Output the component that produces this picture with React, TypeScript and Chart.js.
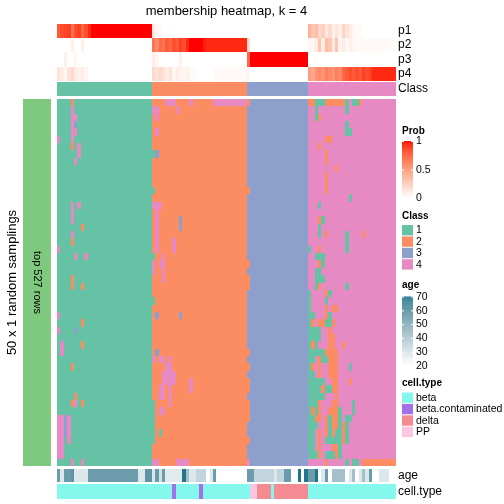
import React, { useEffect, useRef } from "react";
import { Chart, registerables } from "chart.js";

Chart.register(...registerables);

// ---------------- data ----------------
const TITLE = "membership heatmap, k = 4";
const LEFT_TITLE = "50 x 1 random samplings";
const ROW_TITLE = "top 527 rows";
const probRowNames = ["p1", "p2", "p3", "p4"];
const classNames = ["1", "2", "3", "4"];
const classColors = ["#66C2A5", "#FC8D62", "#8DA0CB", "#E78AC3"];
const cellTypeNames = ["beta", "beta.contaminated", "delta", "PP"];
const cellTypeColors = ["#84F8EC", "#A370E8", "#F48B93", "#FCC6E0"];
const probTicks = [0, 0.5, 1];
const ageTicks = [20, 30, 40, 50, 60, 70];

// consensus class of each sample (column)
const consensusClass =
  "1111111111 1111111111 1111111122 2222222222 2222222222 2222223333 3333333333 3333444444 4444444444 4444444444";

// class assigned in each of the 50 random samplings (rows) for each sample (columns)
const membershipRows = [
  "1111211111 1111111111 1111111122 2244422224 2222224444 4444442333 3333333333 3333221112 2222214112 4444444444",
  "1111411111 1111111111 1111111144 2222242222 2222222222 2222223333 3333333333 3333441444 4444414444 4444444444",
  "1111441111 1111111111 1111111124 2222222222 2222222222 2222223333 3333333333 3333441244 4444444444 4444444444",
  "1111431111 1111111111 1111111122 2222222222 2222222222 2222223333 3333333333 3333444444 4444414444 4444444444",
  "1111441111 1111111111 1111111124 2222222222 2222222222 2222223333 3333333333 3333444444 4444411444 4444444444",
  "4111411111 1111111111 1111111122 2222222222 2222222222 2222223333 3333333333 3333444442 2444444444 4444444444",
  "1111214111 1111111111 1111111122 2222222222 2222222222 2222223333 3333333333 3333444244 4444444444 4444444444",
  "1111114111 1111111111 1111111113 2222222222 2222222222 2222223333 3333333333 3333444442 4444444444 4444444444",
  "1111141111 1111111111 1111111122 2222222222 2222222222 2222223333 3333333333 3333444442 4444444444 4444444444",
  "1111111111 1111111111 1111111122 2222222222 2222222222 2222223333 3333333333 3333444444 4424444444 4444444444",
  "1111111111 1111111111 1111111122 2222222222 2222222222 2222223333 3333333333 3333444442 4444444444 4444444444",
  "1111111111 1111111111 1111111122 2222222222 2222222222 2222223333 3333333333 3333444442 4444444444 4444444444",
  "1111111111 1111111111 1111111112 2222222222 2222222222 2222222333 3333333333 3333444442 4444444444 4444444444",
  "1111111111 1111111111 1111111122 2222222222 2222222222 2222223333 3333333333 3333444444 4444441444 4444444444",
  "1111414111 1111111111 1111111144 4222222222 2222222222 2222223333 3333333333 3333444144 4444444444 4444444444",
  "1111411111 1111111111 1111111124 2222222222 2222222222 2222223333 3333333333 3333444444 4444444444 4444444444",
  "1111411111 1111111111 1111111124 2222223222 2222222222 2222223333 3333333333 3333444214 4444444444 4444444444",
  "1111111211 1111111111 1111111124 2222223222 2222222222 2222223333 3333333333 3333444144 4444444444 4444444444",
  "1111411111 1111111111 1111111124 2222222222 2222222222 2222223333 3333333333 3333444142 4444414444 2444444444",
  "1111211111 1111111111 1111111124 2222422222 2222222222 2222223333 3333333333 3333444444 4444414444 4444444444",
  "4111111111 1111111111 1111111124 2222422222 2222222222 2222223333 3333333333 3333144244 4444414444 4444444444",
  "1111141141 1111111111 1111111112 2422222222 2222222222 2222223333 3333333333 3333441114 4444444444 4444444444",
  "1111111111 1111111111 1111111142 4422222222 2222222222 2222222333 3333333333 3333444214 4444444444 4444444444",
  "1111111111 1111111111 1111111142 2422222222 2222222222 2222223333 3333333333 3333441144 4444444444 4444444444",
  "1111211111 1111111111 1111111122 2422222222 2222222222 2222222333 3333333333 3333441114 4444444444 4444444444",
  "1111211211 1111111111 1111111122 2222222222 2222222222 2222222333 3333333333 3333441244 4444414444 4444444444",
  "1111111111 1111111111 1111111122 2222222222 2222222222 2222223333 3333333333 3333144442 1444444444 4444444444",
  "1111111111 1111111111 1111111112 2222222222 2222222222 2222223333 3333333333 3333144441 4444444444 4444444444",
  "1111111111 1111111111 1111111122 2222222222 2222222222 2222223333 3333333333 3333144442 4224444444 4444444444",
  "4111111111 1111111111 1111111123 2222223222 2222222222 2222223333 3333333333 3333114442 1444444444 4444444444",
  "1111111211 1111111111 1111111122 2222222222 2222222222 2222223333 3333333333 3333124221 1244444444 4444444444",
  "4111131111 1111111111 1111111122 2222222222 2222222222 2222223333 3333333333 3333111144 2444444444 4444444444",
  "1111111111 1111111111 1111111122 2222222222 2222222222 2222223333 3333333333 3333111144 2244444444 4444444444",
  "1411111211 1111111111 1111111122 2222222222 2222222222 2222223333 3333333333 3333121444 2244244444 4444444444",
  "1411111111 1111111111 1111111123 2222222222 2222222222 2222222333 3333333333 3333111112 2224444444 4444444444",
  "1111111111 1111111111 1111111142 4424222222 2222222222 2222223333 3333333333 3333114211 2224444444 4444444444",
  "1111211111 1111111111 1111111122 2244222222 2222222222 2222222333 3333333333 3333124244 2224441444 4444444444",
  "1111111111 1111111111 1111111122 2444422222 2222222222 2222223333 3333333333 3333114244 2224444444 4444444444",
  "1111111111 1111111111 1111111122 2444422224 2222222222 2222222333 3333333333 3333111114 4224442444 4444444444",
  "1111111111 1111111111 1111111122 4424222224 2222222222 2222222333 3333333333 3333111121 1224444444 4444444444",
  "1111121111 1111111111 1111111122 4424222222 2222222222 2222223333 3333333333 3333111114 4424444444 4444444444",
  "1111241211 1111111111 1111111112 2224222222 2222222222 2222222333 3333333333 3333111244 4224444144 4444444444",
  "1111111111 1111111111 1111111112 4422222222 2222222222 2222222333 3333333333 3333121244 2221444144 4444444444",
  "4434111111 1111111111 1111111112 2222222222 2222222222 2222222333 3333333333 3333112242 1221411444 4444444444",
  "4434111111 1111111111 1111111112 2222222222 2222222222 2222223333 3333333333 3333111442 1221214444 4444444444",
  "4434111111 1111111111 1111111112 1222222222 2222222222 2222223333 3333333333 3333114242 1211214444 4444444444",
  "4414111111 1111111111 1111111112 2222222222 2222222222 2222222333 3333333333 3333114241 1111214444 4444444444",
  "4411111111 1111111111 1111111122 2222222222 2222222222 2222223333 3333333333 3333114244 4221444444 4444444444",
  "4411111111 1111111111 1111111122 2222222222 2222222222 2222223333 3333333333 3333111241 1121444444 4444444444",
  "1111411411 1111111111 1111111144 2222244442 2222222222 2222224333 3333333333 3333444442 4444414114 2222222222",
];

const p1 = [
  0.8, 0.85, 0.88, 0.9, 0.7, 0.85, 0.9, 0.75, 0.85, 0.95,
  1, 1, 1, 1, 1, 1, 1, 1, 1, 1,
  1, 1, 1, 1, 1, 1, 1, 1, 0.12, 0.05,
  0.03, 0, 0, 0, 0, 0, 0, 0, 0, 0,
  0, 0, 0, 0, 0, 0, 0, 0, 0, 0,
  0, 0, 0, 0, 0, 0, 0, 0, 0, 0,
  0, 0, 0, 0, 0, 0, 0, 0, 0, 0,
  0, 0, 0, 0, 0.4, 0.3, 0.35, 0.2, 0.25, 0.12,
  0.2, 0.08, 0.15, 0.08, 0.22, 0.15, 0.1, 0.05, 0.02, 0.02,
  0, 0, 0, 0, 0, 0, 0, 0, 0, 0,
];
const p2 = [
  0, 0, 0, 0, 0.08, 0, 0, 0.08, 0, 0,
  0, 0, 0, 0, 0, 0, 0, 0, 0, 0,
  0, 0, 0, 0, 0, 0, 0, 0, 0.7, 0.6,
  0.75, 0.7, 0.8, 0.75, 0.85, 0.8, 0.9, 0.85, 0.95, 1,
  1, 1, 1, 0.97, 0.95, 0.95, 0.95, 0.95, 0.95, 0.95,
  0.95, 0.95, 0.95, 0.95, 0.95, 0.95, 0.2, 0, 0, 0,
  0, 0, 0, 0, 0, 0, 0, 0, 0, 0,
  0, 0, 0, 0, 0.05, 0.05, 0.1, 0.3, 0.1, 0.35,
  0.3, 0.1, 0.3, 0.05, 0.1, 0.05, 0.08, 0.05, 0.03, 0.03,
  0.03, 0.03, 0.03, 0.03, 0.03, 0.03, 0.03, 0.03, 0.03, 0.03,
];
const p3 = [
  0, 0, 0.08, 0, 0, 0.05, 0, 0, 0, 0,
  0, 0, 0, 0, 0, 0, 0, 0, 0, 0,
  0, 0, 0, 0, 0, 0, 0, 0, 0.1, 0.05,
  0, 0, 0, 0, 0, 0, 0.08, 0, 0, 0,
  0, 0, 0, 0, 0, 0, 0, 0, 0, 0,
  0, 0, 0, 0, 0, 0, 0.75, 1, 1, 1,
  1, 1, 1, 1, 1, 1, 1, 1, 1, 1,
  1, 1, 1, 1, 0, 0, 0, 0, 0, 0,
  0, 0, 0, 0, 0, 0, 0, 0, 0, 0,
  0, 0, 0, 0, 0, 0, 0, 0, 0, 0,
];
const p4 = [
  0.15, 0.1, 0.05, 0.15, 0.2, 0.1, 0.08, 0.1, 0.05, 0,
  0, 0, 0, 0, 0, 0, 0, 0, 0, 0,
  0, 0, 0, 0, 0, 0, 0, 0, 0.2, 0.15,
  0.2, 0.15, 0.1, 0.15, 0.05, 0.1, 0.05, 0.05, 0.08, 0.03,
  0.03, 0, 0, 0, 0, 0, 0.03, 0.03, 0.03, 0.03,
  0.03, 0.03, 0.03, 0.03, 0.03, 0.03, 0.05, 0, 0, 0,
  0, 0, 0, 0, 0, 0, 0, 0, 0, 0,
  0, 0, 0, 0, 0.5, 0.45, 0.55, 0.6, 0.55, 0.65,
  0.6, 0.55, 0.65, 0.6, 0.75, 0.8, 0.85, 0.8, 0.85, 0.8,
  0.9, 0.85, 0.9, 0.95, 0.95, 0.95, 0.95, 0.95, 0.95, 0.95,
];

const ageValues: (number | null)[] = [
  54, 28, 54, 54, 57, 28, 28, 28, 28, 54,
  54, 54, 54, 54, 54, 54, 54, 54, 54, 54,
  54, 54, 54, 54, 28, 28, 57, 57, 28, 54,
  30, 54, 27, 27, 27, 27, 27, 68, 41, 28,
  28, 34, 34, 34, null, 28, 54, null, null, null,
  null, null, null, null, null, null, 54, 54, 34, 34,
  34, 34, 34, 34, 28, 34, 34, 54, 54, null,
  null, 68, null, 68, 54, 54, 68, null, 28, 54,
  null, 41, 41, 41, 41, null, 28, 41, null, 28,
  41, 28, 54, null, null, 28, 28, 28, null, null,
];

// index into cellTypeNames for each sample
const cellTypeCodes =
  "0000000000 0000000000 0000000000 0000100000 0010000000 0000000332 2220222222 2222000000 0000000000 0000000000";

// ---------------- layout (not data) ----------------
const FONT = '"Liberation Sans", Arial, Helvetica, sans-serif';
const PAD = { left: 57, right: 108, top: 24, bottom: 5 };
const Y_MAX = 475;
const BANDS = {
  p: [
    [0, 14],
    [14, 28],
    [28, 43],
    [43, 57],
  ],
  cls: [58, 72],
  hm: [75, 442],
  age: [445, 458],
  cell: [460, 475],
};

// ---------------- colour helpers ----------------
type RGB = [number, number, number];
const hexToRgb = (h: string): RGB => [
  parseInt(h.slice(1, 3), 16),
  parseInt(h.slice(3, 5), 16),
  parseInt(h.slice(5, 7), 16),
];
const toLin = (c: number) => {
  const v = c / 255;
  return v <= 0.04045 ? v / 12.92 : Math.pow((v + 0.055) / 1.055, 2.4);
};
const fromLin = (c: number) => {
  const v = c <= 0.0031308 ? 12.92 * c : 1.055 * Math.pow(c, 1 / 2.4) - 0.055;
  return Math.round(Math.max(0, Math.min(1, v)) * 255);
};
function rgbToLab([r, g, b]: RGB): RGB {
  const R = toLin(r), G = toLin(g), B = toLin(b);
  const x = (R * 0.4124 + G * 0.3576 + B * 0.1805) / 0.95047;
  const y = R * 0.2126 + G * 0.7152 + B * 0.0722;
  const z = (R * 0.0193 + G * 0.1192 + B * 0.9505) / 1.08883;
  const f = (t: number) => (t > 0.008856 ? Math.cbrt(t) : 7.787 * t + 16 / 116);
  const fx = f(x), fy = f(y), fz = f(z);
  return [116 * fy - 16, 500 * (fx - fy), 200 * (fy - fz)];
}
function labToRgb([L, a, b]: RGB): string {
  const fy = (L + 16) / 116, fx = fy + a / 500, fz = fy - b / 200;
  const inv = (t: number) => (t * t * t > 0.008856 ? t * t * t : (t - 16 / 116) / 7.787);
  const x = inv(fx) * 0.95047, y = inv(fy), z = inv(fz) * 1.08883;
  const R = x * 3.2406 + y * -1.5372 + z * -0.4986;
  const G = x * -0.9689 + y * 1.8758 + z * 0.0415;
  const B = x * 0.0557 + y * -0.204 + z * 1.057;
  return `rgb(${fromLin(R)},${fromLin(G)},${fromLin(B)})`;
}
function makeRamp(lo: number, hi: number, c0: string, c1: string) {
  const a = rgbToLab(hexToRgb(c0)), b = rgbToLab(hexToRgb(c1));
  return (v: number) => {
    const t = Math.max(0, Math.min(1, (v - lo) / (hi - lo)));
    return labToRgb([a[0] + (b[0] - a[0]) * t, a[1] + (b[1] - a[1]) * t, a[2] + (b[2] - a[2]) * t]);
  };
}
const probColor = makeRamp(0, 1, "#FFFFFF", "#FF0000");
const ageColor = makeRamp(20, 70, "#FFFFFF", "#0F7086");

// ---------------- chart building ----------------
const strip = (s: string) => s.replace(/\s/g, "");
const snapPx = (v: number) => Math.round(v + 0.001);

// snaps bar rectangles to whole device pixels (crisp raster look, no seams)
const snapPlugin = {
  id: "snapBars",
  beforeDatasetsDraw(chart: any) {
    chart.getSortedVisibleDatasetMetas().forEach((meta: any) => {
      meta.data.forEach((el: any) => {
        const half = el.width / 2;
        const l = snapPx(el.x - half);
        const r = snapPx(el.x + half);
        el.x = (l + r) / 2;
        el.width = r - l;
        el.y = snapPx(el.y);
        el.base = snapPx(el.base);
      });
    });
  },
};

function buildConfig(): any {
  const rows = membershipRows.map(strip);
  const consensus = strip(consensusClass);
  const cellCodes = strip(cellTypeCodes);
  const nCol = consensus.length;
  const labels = Array.from({ length: nCol }, (_, i) => String(i));
  const rowH = (BANDS.hm[1] - BANDS.hm[0]) / rows.length;
  const datasets: any[] = [];

  // heatmap: vertical runs of the same class in each column
  classNames.forEach((k, ci) => {
    const data: any[] = [];
    for (let c = 0; c < nCol; c++) {
      let r = 0;
      while (r < rows.length) {
        if (rows[r][c] === k) {
          let e = r;
          while (e + 1 < rows.length && rows[e + 1][c] === k) e++;
          data.push({ x: labels[c], y: [BANDS.hm[0] + r * rowH, BANDS.hm[0] + (e + 1) * rowH] });
          r = e + 1;
        } else r++;
      }
    }
    datasets.push({ label: "class " + k, data, backgroundColor: classColors[ci] });
  });

  // probability annotation rows
  [p1, p2, p3, p4].forEach((vals, i) => {
    datasets.push({
      label: probRowNames[i],
      data: vals.map((_, c) => ({ x: labels[c], y: [BANDS.p[i][0], BANDS.p[i][1]] })),
      backgroundColor: vals.map((v) => probColor(v)),
    });
  });

  // consensus class row
  datasets.push({
    label: "Class",
    data: labels.map((l) => ({ x: l, y: [BANDS.cls[0], BANDS.cls[1]] })),
    backgroundColor: consensus.split("").map((k) => classColors[classNames.indexOf(k)]),
  });

  // age row
  const ageData: any[] = [];
  const ageCols: string[] = [];
  ageValues.forEach((v, c) => {
    if (v === null) return;
    ageData.push({ x: labels[c], y: [BANDS.age[0], BANDS.age[1]] });
    ageCols.push(ageColor(v));
  });
  datasets.push({ label: "age", data: ageData, backgroundColor: ageCols });

  // cell type row
  datasets.push({
    label: "cell.type",
    data: labels.map((l) => ({ x: l, y: [BANDS.cell[0], BANDS.cell[1]] })),
    backgroundColor: cellCodes.split("").map((d) => cellTypeColors[Number(d)]),
  });

  const decor = {
    id: "decor",
    afterDraw(chart: any) {
      const ctx: CanvasRenderingContext2D = chart.ctx;
      const ys = chart.scales.y;
      const py = (u: number) => ys.getPixelForValue(u);
      const area = chart.chartArea;
      ctx.save();
      ctx.fillStyle = "#000";
      ctx.textBaseline = "middle";

      // title
      ctx.font = `13px ${FONT}`;
      ctx.textAlign = "center";
      ctx.fillText(TITLE, (area.left + area.right) / 2, 11);

      // right-side row labels
      ctx.font = `12px ${FONT}`;
      ctx.textAlign = "left";
      const lx = area.right + 2;
      probRowNames.forEach((t, i) => ctx.fillText(t, lx, py((BANDS.p[i][0] + BANDS.p[i][1]) / 2)));
      ctx.fillText("Class", lx, py((BANDS.cls[0] + BANDS.cls[1]) / 2));
      ctx.fillText("age", lx, py((BANDS.age[0] + BANDS.age[1]) / 2));
      ctx.fillText("cell.type", lx, py((BANDS.cell[0] + BANDS.cell[1]) / 2));

      // left green slice bar + titles
      const hy0 = py(BANDS.hm[0]), hy1 = py(BANDS.hm[1]);
      ctx.fillStyle = "#7FC97F";
      ctx.fillRect(23, hy0, 28, hy1 - hy0);
      ctx.fillStyle = "#000";
      ctx.save();
      ctx.translate(12, (hy0 + hy1) / 2);
      ctx.rotate(-Math.PI / 2);
      ctx.textAlign = "center";
      ctx.font = `13px ${FONT}`;
      ctx.fillText(LEFT_TITLE, 0, 0);
      ctx.restore();
      ctx.save();
      ctx.translate(37.5, (hy0 + hy1) / 2);
      ctx.rotate(Math.PI / 2);
      ctx.textAlign = "center";
      ctx.font = `11px ${FONT}`;
      ctx.fillText(ROW_TITLE, 0, 0);
      ctx.restore();

      // legends
      const gx = 402, gw = 11, tx = 416;
      const legendTitle = (t: string, y: number) => {
        ctx.font = `bold 10px ${FONT}`;
        ctx.fillStyle = "#000";
        ctx.textAlign = "left";
        ctx.fillText(t, gx, y);
      };
      const gradient = (
        ticks: number[],
        yTop: number,
        yBot: number,
        colorFn: (v: number) => string,
        fmt: (v: number) => string
      ) => {
        const lo = ticks[0], hi = ticks[ticks.length - 1];
        for (let y = yTop; y < yBot; y += 1) {
          const v = hi - ((y + 0.5 - yTop) / (yBot - yTop)) * (hi - lo);
          ctx.fillStyle = colorFn(v);
          ctx.fillRect(gx, y, gw, 1.2);
        }
        ctx.strokeStyle = "#FFFFFF";
        ctx.lineWidth = 1;
        ctx.font = `10.5px ${FONT}`;
        ticks.forEach((t) => {
          const y = yBot - ((t - lo) / (hi - lo)) * (yBot - yTop);
          if (t !== lo) {
            ctx.beginPath();
            ctx.moveTo(gx, y + 0.5);
            ctx.lineTo(gx + 2, y + 0.5);
            ctx.moveTo(gx + gw - 2, y + 0.5);
            ctx.lineTo(gx + gw, y + 0.5);
            ctx.stroke();
          }
          ctx.fillStyle = "#000";
          ctx.fillText(fmt(t), tx, y + 0.5);
        });
      };
      const discrete = (names: string[], colors: string[], yTop: number) => {
        ctx.font = `10.5px ${FONT}`;
        names.forEach((n, i) => {
          const y = yTop + i * 11.4;
          ctx.fillStyle = colors[i];
          ctx.fillRect(gx, y, gw, 10.4);
          ctx.fillStyle = "#000";
          ctx.fillText(n, tx, y + 5.5);
        });
      };

      legendTitle("Prob", 131);
      gradient(probTicks, 141, 198, probColor, (v) => String(v));
      legendTitle("Class", 216);
      discrete(classNames, classColors, 225);
      legendTitle("age", 285.5);
      gradient(ageTicks, 296.5, 365.5, ageColor, (v) => String(v));
      legendTitle("cell.type", 383);
      discrete(cellTypeNames, cellTypeColors, 392.5);

      ctx.restore();
    },
  };

  return {
    type: "bar",
    data: { labels, datasets },
    options: {
      responsive: false,
      animation: false,
      devicePixelRatio: 1,
      layout: { padding: PAD },
      datasets: {
        bar: {
          grouped: false,
          barPercentage: 1,
          categoryPercentage: 1,
          borderWidth: 0,
          inflateAmount: 0,
        },
      },
      scales: {
        x: { display: false, offset: true, grid: { display: false } },
        y: { display: false, min: 0, max: Y_MAX, reverse: true },
      },
      plugins: {
        legend: { display: false },
        tooltip: { enabled: false },
        title: { display: false },
      },
    },
    plugins: [snapPlugin, decor],
  };
}

export default function App() {
  const ref = useRef<HTMLCanvasElement | null>(null);
  useEffect(() => {
    if (!ref.current) return;
    const chart = new Chart(ref.current, buildConfig());
    return () => chart.destroy();
  }, []);
  return (
    <div style={{ position: "absolute", left: 0, top: 0, width: 504, height: 504, background: "#FFFFFF" }}>
      <canvas ref={ref} width={504} height={504} style={{ display: "block", width: 504, height: 504 }} />
    </div>
  );
}
